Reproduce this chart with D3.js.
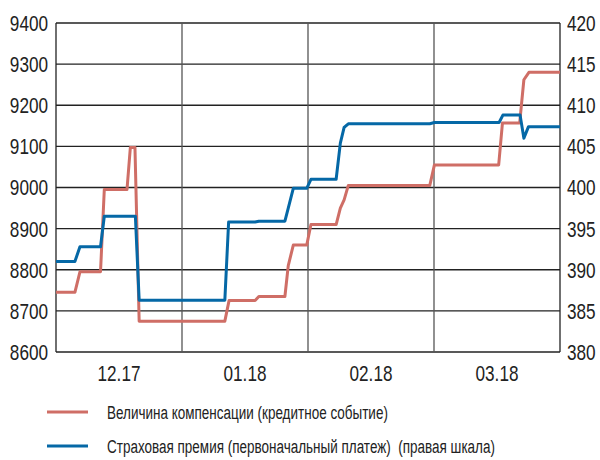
<!DOCTYPE html>
<html>
<head>
<meta charset="utf-8">
<script src="https://cdn.jsdelivr.net/npm/d3@7"></script>
<style>
  body { margin: 0; background: #fff; }
  text { font-family: "Liberation Sans", Arial, sans-serif; fill: #222; }
</style>
</head>
<body>
<svg width="600" height="460"></svg>
<script>
// month bands (each band = 30 day units on x)
var months = ["12.17", "01.18", "02.18", "03.18"];
var leftTicks = [8600, 8700, 8800, 8900, 9000, 9100, 9200, 9300, 9400];
var rightTicks = [380, 385, 390, 395, 400, 405, 410, 415, 420];

// Величина компенсации (left axis) - break points
var compDays =   [0, 4.5, 5.7, 10.6, 11.5, 16.9, 17.7, 18.8, 19.8, 40.2, 41.2, 47.4, 48.3, 54.5, 55.3, 56.5, 59.7, 60.7, 66.7, 67.7, 68.6, 69.6, 89, 90.1, 105.4, 106.3, 110.4, 111.4, 112.6, 120];
var compValues = [8745, 8745, 8795, 8795, 8995, 8995, 9097, 9097, 8675, 8675, 8725, 8725, 8735, 8735, 8810, 8860, 8860, 8910, 8910, 8950, 8970, 9005, 9005, 9055, 9055, 9157, 9157, 9262, 9280, 9280];

// Страховая премия (right axis) - break points
var premDays =   [0, 4.5, 5.7, 10.6, 11.5, 18.9, 19.8, 40.2, 41.1, 47.4, 48.3, 54.5, 55.3, 56.5, 59.7, 60.7, 66.7, 67.7, 68.6, 69.6, 89, 90.1, 105.5, 106.4, 110.5, 111.4, 112.5, 120];
var premValues = [391, 391, 392.8, 392.8, 396.5, 396.5, 386.3, 386.3, 395.8, 395.8, 395.9, 395.9, 397.5, 399.9, 399.9, 401, 401, 405.4, 407.3, 407.75, 407.75, 407.9, 407.9, 408.8, 408.8, 406, 407.4, 407.4];

var svg = d3.select("svg");
var pLeft = 56, pRight = 560, pTop = 23, pBottom = 352;

var x = d3.scaleLinear().domain([0, 120]).range([pLeft, pRight]);
var yL = d3.scaleLinear().domain([8600, 9400]).range([pBottom, pTop]);
var yR = d3.scaleLinear().domain([380, 420]).range([pBottom, pTop]);

// condensed look: squeeze text horizontally
function place(px, py, sx) {
  return "translate(" + px + "," + py + ") scale(" + sx + ",1)";
}

// horizontal grid
svg.append("g").selectAll("line")
    .data(leftTicks)
    .enter().append("line")
    .attr("x1", pLeft).attr("x2", pRight)
    .attr("y1", function(d) { return yL(d); })
    .attr("y2", function(d) { return yL(d); })
    .attr("stroke", "#222").attr("stroke-width", 1.3);

// vertical month lines
svg.append("g").selectAll("line")
    .data(d3.range(0, months.length + 1))
    .enter().append("line")
    .attr("x1", function(d) { return x(d * 30); })
    .attr("x2", function(d) { return x(d * 30); })
    .attr("y1", pTop).attr("y2", pBottom)
    .attr("stroke", function(d) { return (d == 0 || d == months.length) ? "#222" : "#555"; })
    .attr("stroke-width", 1.3);

// left labels
svg.append("g").selectAll("text")
    .data(leftTicks)
    .enter().append("text")
    .attr("transform", function(d) { return place(48, yL(d), 0.78); })
    .attr("dy", "0.36em")
    .attr("text-anchor", "end")
    .style("font-size", "22px")
    .text(function(d) { return d; });

// right labels
svg.append("g").selectAll("text")
    .data(rightTicks)
    .enter().append("text")
    .attr("transform", function(d) { return place(567, yR(d), 0.78); })
    .attr("dy", "0.36em")
    .style("font-size", "22px")
    .text(function(d) { return d; });

// month labels
svg.append("g").selectAll("text")
    .data(months)
    .enter().append("text")
    .attr("transform", function(d, i) { return place(x(i * 30 + 15), 381, 0.78); })
    .attr("text-anchor", "middle")
    .style("font-size", "22px")
    .text(function(d) { return d; });

var lineL = d3.line()
    .x(function(d) { return x(d[0]); })
    .y(function(d) { return yL(d[1]); });
var lineR = d3.line()
    .x(function(d) { return x(d[0]); })
    .y(function(d) { return yR(d[1]); });

svg.append("path")
    .datum(d3.zip(compDays, compValues))
    .attr("d", lineL)
    .attr("fill", "none")
    .attr("stroke", "#cf6e66")
    .attr("stroke-width", 3)
    .attr("stroke-linejoin", "round");

svg.append("path")
    .datum(d3.zip(premDays, premValues))
    .attr("d", lineR)
    .attr("fill", "none")
    .attr("stroke", "#0568a6")
    .attr("stroke-width", 3)
    .attr("stroke-linejoin", "round");

// legend
var legend = [
  {label: "Величина компенсации (кредитное событие)", color: "#cf6e66", y: 412},
  {label: "Страховая премия (первоначальный платеж)  (правая шкала)", color: "#0568a6", y: 446}
];
var lg = svg.append("g").selectAll("g")
    .data(legend)
    .enter().append("g");
lg.append("line")
    .attr("x1", 47).attr("x2", 88)
    .attr("y1", function(d) { return d.y; })
    .attr("y2", function(d) { return d.y; })
    .attr("stroke", function(d) { return d.color; })
    .attr("stroke-width", 3);
lg.append("text")
    .attr("transform", function(d) { return place(107, d.y, 0.71); })
    .attr("dy", "0.36em")
    .style("font-size", "19px")
    .style("white-space", "pre")
    .text(function(d) { return d.label; });
</script>
</body>
</html>
